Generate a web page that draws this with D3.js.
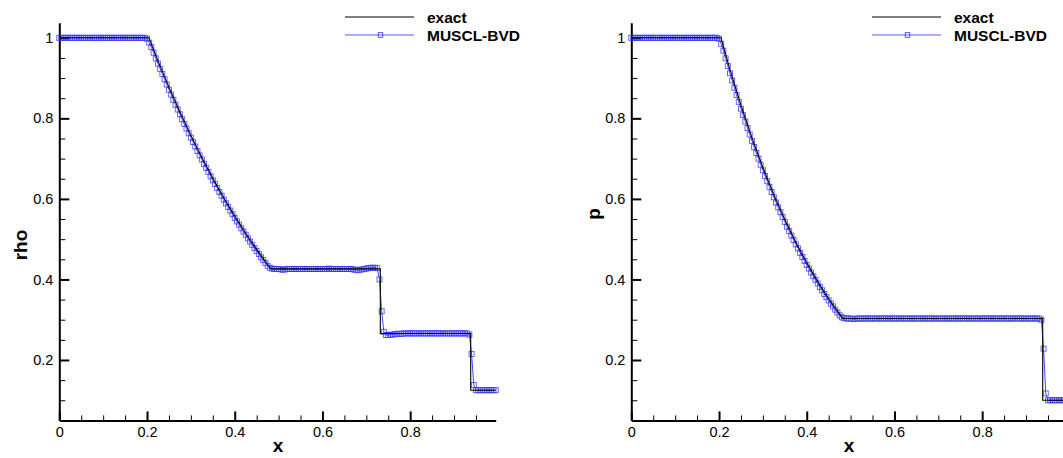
<!DOCTYPE html>
<html>
<head>
<meta charset="utf-8">
<script src="https://cdn.jsdelivr.net/npm/d3@7"></script>
<style>
  body { margin: 0; background: #fff; }
  svg { display: block; font-family: "Liberation Sans", Arial, Helvetica, sans-serif; }
</style>
</head>
<body>
<svg id="chart" width="1063" height="458"></svg>
<script>
// mesh: 200 points, dx = 0.005, starting at 0
var nPts = 200, dx = 0.005;
var xGrid = d3.range(nPts).map(function(i) { return i * dx; });

// exact solution breakpoints (Sod, t = 0.25)
var exactX   = [0, 0.2042, 0.225, 0.25, 0.275, 0.3, 0.325, 0.35, 0.375, 0.4, 0.425, 0.45, 0.475, 0.4826, 0.7319, 0.7319, 0.938, 0.938, 0.995];
var exactRho = [1, 1, 0.9428, 0.8775, 0.8158, 0.7577, 0.7030, 0.6514, 0.6029, 0.5574, 0.5146, 0.4746, 0.4370, 0.4263, 0.4263, 0.2656, 0.2656, 0.125, 0.125];
var exactP   = [1, 1, 0.9208, 0.8327, 0.7520, 0.6781, 0.6105, 0.5488, 0.4925, 0.4412, 0.3946, 0.3522, 0.3138, 0.3031, 0.3031, 0.3031, 0.3031, 0.1, 0.1];

// MUSCL-BVD values, one per mesh point
var bvdRho = [
  1, 1, 1, 1, 1, 1, 1, 1, 1, 1,
  1, 1, 1, 1, 1, 1, 1, 1, 1, 1,
  1, 1, 1, 1, 1, 1, 1, 1, 1, 1,
  1, 1, 1, 1, 1, 1, 1, 1, 1, 1,
  0.998, 0.988, 0.977, 0.963, 0.949, 0.936, 0.923, 0.910, 0.897, 0.884,
  0.871, 0.859, 0.846, 0.834, 0.822, 0.810, 0.798, 0.786, 0.775, 0.763,
  0.752, 0.741, 0.730, 0.719, 0.708, 0.698, 0.687, 0.677, 0.667, 0.656,
  0.646, 0.637, 0.627, 0.617, 0.608, 0.598, 0.589, 0.580, 0.571, 0.562,
  0.553, 0.544, 0.536, 0.527, 0.519, 0.511, 0.502, 0.494, 0.486, 0.478,
  0.471, 0.463, 0.455, 0.448, 0.441, 0.434, 0.429, 0.427, 0.426, 0.426,
  0.426, 0.425, 0.424, 0.425, 0.426, 0.426, 0.426, 0.426, 0.426, 0.426,
  0.426, 0.426, 0.426, 0.426, 0.426, 0.426, 0.426, 0.426, 0.426, 0.426,
  0.426, 0.426, 0.426, 0.427, 0.426, 0.426, 0.426, 0.426, 0.426, 0.426,
  0.426, 0.426, 0.426, 0.426, 0.425, 0.424, 0.423, 0.424, 0.425, 0.426,
  0.427, 0.428, 0.429, 0.429, 0.429, 0.428, 0.400, 0.321, 0.270, 0.262,
  0.262, 0.263, 0.263, 0.264, 0.265, 0.265, 0.265, 0.266, 0.266, 0.266,
  0.266, 0.266, 0.266, 0.266, 0.266, 0.266, 0.266, 0.266, 0.266, 0.266,
  0.266, 0.266, 0.266, 0.266, 0.266, 0.266, 0.266, 0.266, 0.266, 0.266,
  0.266, 0.266, 0.266, 0.266, 0.266, 0.266, 0.266, 0.263, 0.215, 0.138,
  0.125, 0.125, 0.125, 0.125, 0.125, 0.125, 0.125, 0.125, 0.125, 0.125
];

var bvdP = [
  1, 1, 1, 1, 1, 1, 1, 1, 1, 1,
  1, 1, 1, 1, 1, 1, 1, 1, 1, 1,
  1, 1, 1, 1, 1, 1, 1, 1, 1, 1,
  1, 1, 1, 1, 1, 1, 1, 1, 1, 1,
  0.998, 0.985, 0.968, 0.949, 0.930, 0.912, 0.894, 0.876, 0.858, 0.841,
  0.824, 0.808, 0.792, 0.776, 0.760, 0.744, 0.729, 0.714, 0.700, 0.685,
  0.671, 0.657, 0.644, 0.630, 0.617, 0.604, 0.591, 0.579, 0.567, 0.555,
  0.543, 0.531, 0.520, 0.509, 0.498, 0.487, 0.477, 0.466, 0.456, 0.446,
  0.436, 0.427, 0.417, 0.408, 0.399, 0.390, 0.381, 0.373, 0.364, 0.356,
  0.348, 0.340, 0.333, 0.325, 0.318, 0.311, 0.306, 0.304, 0.303, 0.303,
  0.303, 0.302, 0.302, 0.303, 0.303, 0.303, 0.303, 0.303, 0.303, 0.303,
  0.303, 0.303, 0.303, 0.303, 0.303, 0.303, 0.303, 0.303, 0.303, 0.303,
  0.303, 0.303, 0.303, 0.303, 0.303, 0.303, 0.303, 0.303, 0.303, 0.303,
  0.303, 0.303, 0.303, 0.303, 0.303, 0.303, 0.303, 0.303, 0.303, 0.303,
  0.303, 0.303, 0.303, 0.303, 0.303, 0.303, 0.303, 0.303, 0.303, 0.303,
  0.303, 0.303, 0.303, 0.303, 0.303, 0.303, 0.303, 0.303, 0.303, 0.303,
  0.303, 0.303, 0.303, 0.303, 0.303, 0.303, 0.303, 0.303, 0.303, 0.303,
  0.303, 0.303, 0.303, 0.303, 0.303, 0.303, 0.303, 0.303, 0.303, 0.303,
  0.303, 0.303, 0.303, 0.303, 0.303, 0.303, 0.303, 0.300, 0.228, 0.117,
  0.1, 0.1, 0.1, 0.1, 0.1, 0.1, 0.1, 0.1, 0.1, 0.1
];

var xTicks = [0, 0.2, 0.4, 0.6, 0.8];
var xMinor = [0.05, 0.1, 0.15, 0.25, 0.3, 0.35, 0.45, 0.5, 0.55, 0.65, 0.7, 0.75, 0.85, 0.9, 0.95];
var yTicks = [0.2, 0.4, 0.6, 0.8, 1];
var yMinor = [0.1, 0.15, 0.25, 0.3, 0.35, 0.45, 0.5, 0.55, 0.65, 0.7, 0.75, 0.85, 0.9, 0.95];
var legendLabels = ["exact", "MUSCL-BVD"];

var blue = "#2f2fff";
var svg = d3.select("#chart");

var panels = [
  { left: 59.3, label: "rho", ex: exactRho, num: bvdRho, titleX: 27, titleY: 245, xLabelX: 278, legX: 345 },
  { left: 631.3, label: "p", ex: exactP, num: bvdP, titleX: 600, titleY: 214, xLabelX: 849, legX: 872 }
];

function fmt(d) { return d === 0 ? "0" : d === 1 ? "1" : d3.format(".1f")(d); }

panels.forEach(function(pn) {
  var x = d3.scaleLinear().domain([0, 0.995]).range([pn.left, pn.left + 436.4]);
  var y = d3.scaleLinear().domain([0.05, 1.0375]).range([420.4, 22.7]);
  var g = svg.append("g");

  // minor ticks
  g.append("g").attr("transform", "translate(" + pn.left + ",0)")
    .call(d3.axisLeft(y).tickValues(yMinor).tickSize(-6).tickFormat(""))
    .call(function(a) { a.select(".domain").remove(); a.selectAll("line").attr("stroke-width", 1); });
  g.append("g").attr("transform", "translate(0,420.4)")
    .call(d3.axisBottom(x).tickValues(xMinor).tickSize(-5).tickFormat(""))
    .call(function(a) { a.select(".domain").remove(); a.selectAll("line").attr("stroke-width", 1); });

  // major axes
  var ya = g.append("g").attr("transform", "translate(" + pn.left + ",0)")
    .call(d3.axisLeft(y).tickValues(yTicks).tickSize(-10).tickSizeOuter(0).tickPadding(6).tickFormat(fmt));
  var xa = g.append("g").attr("transform", "translate(0,420.4)")
    .call(d3.axisBottom(x).tickValues(xTicks).tickSize(-9).tickSizeOuter(0).tickPadding(6).tickFormat(fmt));
  [ya, xa].forEach(function(a) {
    a.select(".domain").attr("stroke-width", 2).attr("stroke", "#000");
    a.selectAll(".tick line").attr("stroke-width", 2);
    a.selectAll("text").attr("font-size", 14.5).attr("fill", "#000")
      .attr("font-family", "Liberation Sans, Arial, sans-serif");
  });

  // numerical solution
  var pts = xGrid.map(function(v, i) { return [v, pn.num[i]]; });
  var line = d3.line().x(function(d) { return x(d[0]); }).y(function(d) { return y(d[1]); });
  g.append("path").datum(pts).attr("d", line)
    .attr("fill", "none").attr("stroke", blue).attr("stroke-width", 0.9);
  g.selectAll("rect.mk").data(pts).enter().append("rect").attr("class", "mk")
    .attr("x", function(d) { return x(d[0]) - 2.5; })
    .attr("y", function(d) { return y(d[1]) - 2.5; })
    .attr("width", 5).attr("height", 5)
    .attr("fill", "none").attr("stroke", blue).attr("stroke-width", 0.9).attr("stroke-opacity", 0.8);

  // exact solution
  var ex = exactX.map(function(v, i) { return [v, pn.ex[i]]; });
  g.append("path").datum(ex).attr("d", line)
    .attr("fill", "none").attr("stroke", "#000").attr("stroke-width", 1.1);

  // axis titles
  g.append("text").attr("transform", "translate(" + pn.titleX + "," + pn.titleY + ") rotate(-90)")
    .attr("text-anchor", "middle").attr("font-size", 19).attr("font-weight", "bold").text(pn.label);
  g.append("text").attr("x", pn.xLabelX).attr("y", 452).attr("text-anchor", "middle")
    .attr("font-size", 19).attr("font-weight", "bold").text("x");

  // legend
  var lg = g.append("g");
  lg.append("line").attr("x1", pn.legX).attr("x2", pn.legX + 69).attr("y1", 17).attr("y2", 17)
    .attr("stroke", "#000").attr("stroke-width", 1.2);
  lg.append("line").attr("x1", pn.legX).attr("x2", pn.legX + 69).attr("y1", 35).attr("y2", 35)
    .attr("stroke", blue).attr("stroke-width", 0.8);
  lg.append("rect").attr("x", pn.legX + 35.5 - 2.3).attr("y", 35 - 2.3).attr("width", 4.6).attr("height", 4.6)
    .attr("fill", "none").attr("stroke", blue).attr("stroke-width", 0.8);
  lg.selectAll("text").data(legendLabels).enter().append("text")
    .attr("x", pn.legX + 82).attr("y", function(d, i) { return 22.5 + i * 18.2; })
    .attr("font-size", 15.5).attr("font-weight", "bold").text(function(d) { return d; });
});
</script>
</body>
</html>
